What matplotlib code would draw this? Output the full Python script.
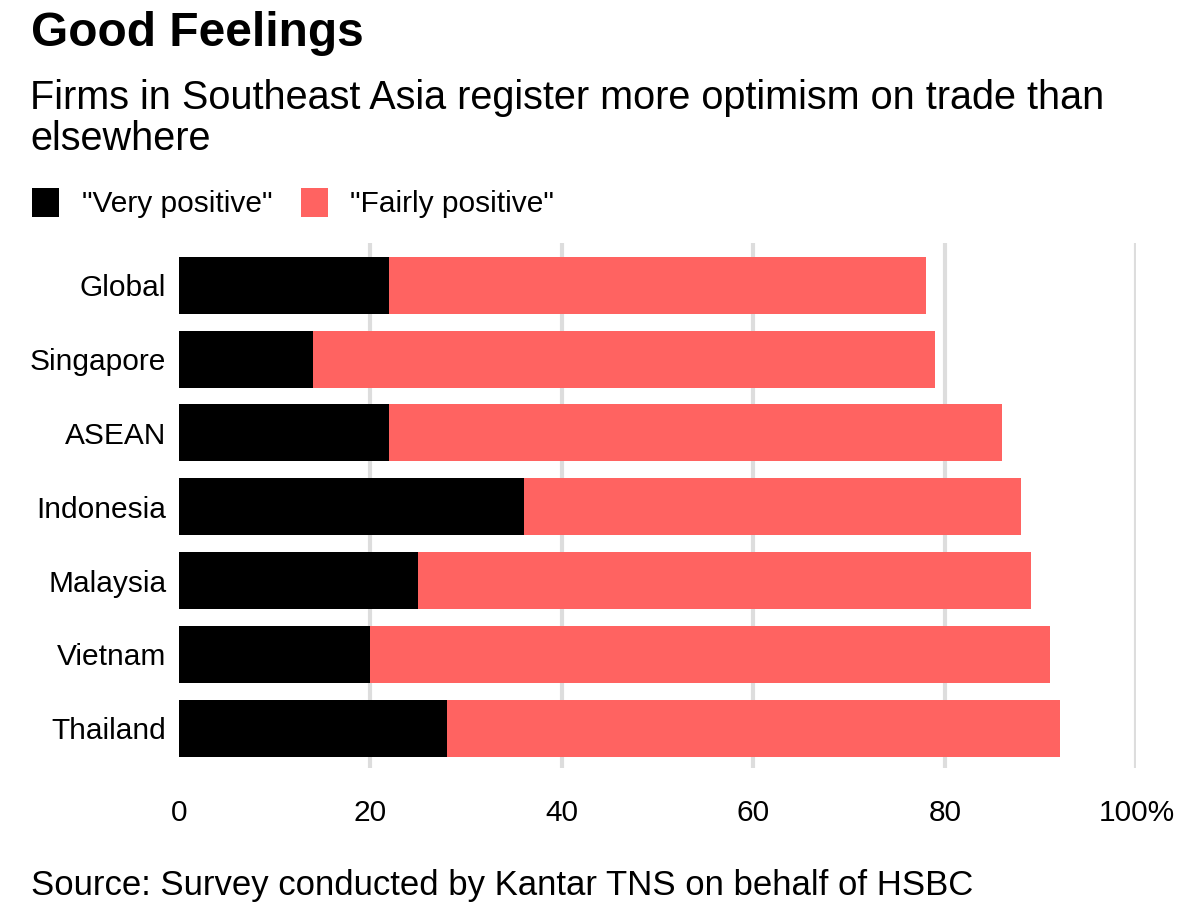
import matplotlib.pyplot as plt
import numpy as np

plt.rcParams["font.family"] = ["Liberation Sans", "DejaVu Sans"]

countries = ["Global", "Singapore", "ASEAN", "Indonesia", "Malaysia", "Vietnam", "Thailand"]
very_positive = [22, 14, 22, 36, 25, 20, 28]
fairly_positive = [56, 65, 64, 52, 64, 71, 64]
series_names = ['"Very positive"', '"Fairly positive"']
xticks = [0, 20, 40, 60, 80, 100]
xtick_labels = ["0", "20", "40", "60", "80", "100%"]

black = "#000000"
red = "#ff6361"

fig = plt.figure(figsize=(12, 9.11), dpi=100)
ax = fig.add_axes([0.149, 0.157, 0.798, 0.576])

y = np.arange(len(countries))
b1 = ax.barh(y, very_positive, height=0.77, color=black, zorder=3)
b2 = ax.barh(y, fairly_positive, left=very_positive, height=0.77, color=red, zorder=3)

ax.set_xlim(0, 100)
ax.set_ylim(6.54, -0.57)
ax.set_yticks(y)
ax.set_yticklabels(countries, fontsize=21.5)
ax.set_xticks(xticks)
ax.set_xticklabels(xtick_labels, fontsize=21.5)
ax.tick_params(axis="both", length=0)
ax.tick_params(axis="y", pad=9)
ax.tick_params(axis="x", pad=22)
for x in xticks[1:]:
    ax.axvline(x, color="#dddddd", linewidth=3, zorder=1)
for s in ax.spines.values():
    s.set_visible(False)

fig.text(0.026, 0.963, "Good Feelings", fontsize=34.5, fontweight="bold", va="center")
fig.text(0.025, 0.870, "Firms in Southeast Asia register more optimism on trade than\nelsewhere",
         fontsize=28.5, va="center", linespacing=1.1)

fig.legend([b1, b2], series_names, loc="center left", bbox_to_anchor=(0.027, 0.777),
           ncol=2, frameon=False, fontsize=21.5, handlelength=0.9, handleheight=1.1,
           handletextpad=0.75, columnspacing=0.97, borderaxespad=0, borderpad=0)

fig.text(0.026, 0.028, "Source: Survey conducted by Kantar TNS on behalf of HSBC",
         fontsize=25, va="center")

fig.savefig("out.png", dpi=100)
